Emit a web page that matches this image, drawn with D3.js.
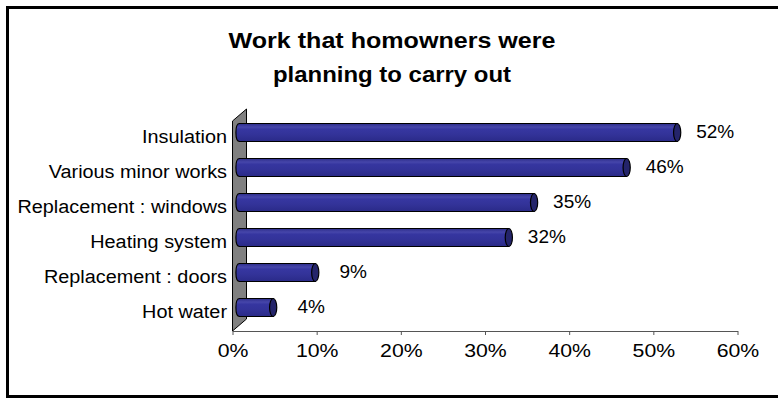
<!DOCTYPE html>
<html>
<head>
<meta charset="utf-8">
<script src="https://cdn.jsdelivr.net/npm/d3@7/dist/d3.min.js"></script>
<style>
  html, body { margin: 0; padding: 0; background: #fff; overflow: hidden; }
  svg { display: block; }
  text { font-family: "Liberation Sans", Arial, sans-serif; fill: #000; }
</style>
</head>
<body>
<svg id="chart" width="778" height="398"></svg>
<script>
// Survey results: share of homeowners planning each type of work
const categories = ["Insulation", "Various minor works", "Replacement : windows",
                    "Heating system", "Replacement : doors", "Hot water"];
const values = [52, 46, 35, 32, 9, 4];
const tickValues = [0, 10, 20, 30, 40, 50, 60];
const titleLines = ["Work that homowners were", "planning to carry out"];

const svg = d3.select("#chart");

// outer frame (its right edge runs past the page)
svg.append("rect")
  .attr("x", 7.5).attr("y", 7.5)
  .attr("width", 820).attr("height", 389)
  .attr("fill", "#fff").attr("stroke", "#000").attr("stroke-width", 3);

// title
const titleWidths = [327, 238];
svg.selectAll("text.title").data(titleLines).join("text")
  .attr("class", "title")
  .attr("x", 392).attr("y", (d, i) => 47.5 + i * 34)
  .attr("text-anchor", "middle")
  .attr("font-size", 22).attr("font-weight", "bold")
  .attr("textLength", (d, i) => titleWidths[i])
  .attr("lengthAdjust", "spacingAndGlyphs")
  .text(d => d);

// 3D depth of the plot (back plane offset)
const depthX = 14, depthY = -12;
const midX = depthX / 2, midY = depthY / 2;

// scales (front plane)
const x = d3.scaleLinear().domain([0, 60]).range([232.5, 737.5]);
const yFrontTop = 121, yFrontBottom = 331;
const y = d3.scaleBand().domain(categories)
  .range([yFrontTop, yFrontBottom]).paddingInner(0.486).paddingOuter(0.243);

// side wall
const wall = [
  [x(0), yFrontBottom], [x(0) + depthX, yFrontBottom + depthY],
  [x(0) + depthX, yFrontTop + depthY], [x(0), yFrontTop]
];
svg.append("path")
  .attr("d", d3.line()(wall) + "Z")
  .attr("fill", "#808080").attr("stroke", "#000").attr("stroke-width", 1);

// value axis
const axis = svg.append("g").attr("transform", `translate(0,${yFrontBottom})`)
  .call(d3.axisBottom(x).tickValues(tickValues).tickFormat(d => d + "%")
    .tickSizeInner(4).tickSizeOuter(0).tickPadding(9));
axis.select(".domain").attr("stroke", "#555");
axis.selectAll(".tick line").attr("stroke", "#555");
axis.selectAll(".tick text")
  .attr("font-size", 19).attr("fill", "#000")
  .attr("font-family", "\"Liberation Sans\", Arial, sans-serif")
  .attr("transform", "scale(1.12,1)");

// category labels
svg.selectAll("text.cat").data(categories).join("text")
  .attr("class", "cat")
  .attr("transform", d => `translate(227,${y(d) + y.bandwidth() / 2 + midY + 10.5}) scale(1.045,1)`)
  .attr("text-anchor", "end")
  .attr("font-size", 19)
  .text(d => d);

// cylinder shading
const defs = svg.append("defs");
const grad = defs.append("linearGradient").attr("id", "cyl")
  .attr("x1", 0).attr("y1", 0).attr("x2", 0).attr("y2", 1);
[[0, "#2c2c8a"], [0.2, "#4646aa"], [0.32, "#3636a0"], [0.6, "#333399"], [1, "#2a2a88"]]
  .forEach(([o, c]) => grad.append("stop").attr("offset", o).attr("stop-color", c));

const rx = 3.6;
const bars = svg.selectAll("g.bar").data(categories).join("g").attr("class", "bar");

bars.each(function(d, i) {
  const g = d3.select(this);
  const cy = y(d) + y.bandwidth() / 2 + midY;
  const h = y.bandwidth();
  const ry = h / 2;
  const x0 = x(0) + midX, x1 = x(values[i]) + midX;
  // body with rounded left end
  const p = d3.path();
  p.moveTo(x1, cy - ry);
  p.lineTo(x0, cy - ry);
  p.bezierCurveTo(x0 - rx * 1.33, cy - ry, x0 - rx * 1.33, cy + ry, x0, cy + ry);
  p.lineTo(x1, cy + ry);
  p.closePath();
  g.append("path").attr("d", p.toString())
    .attr("fill", "url(#cyl)").attr("stroke", "#000").attr("stroke-width", 1.2);
  // end cap
  g.append("ellipse")
    .attr("cx", x1).attr("cy", cy).attr("rx", rx).attr("ry", ry)
    .attr("fill", "#24246a").attr("stroke", "#000").attr("stroke-width", 1.2);
});

// value labels
svg.selectAll("text.val").data(categories).join("text")
  .attr("class", "val")
  .attr("x", (d, i) => x(values[i]) + 45)
  .attr("y", d => y(d) + y.bandwidth() / 2 + midY + 5.5)
  .attr("text-anchor", "middle")
  .attr("font-size", 19)
  .text((d, i) => values[i] + "%");
</script>
</body>
</html>
